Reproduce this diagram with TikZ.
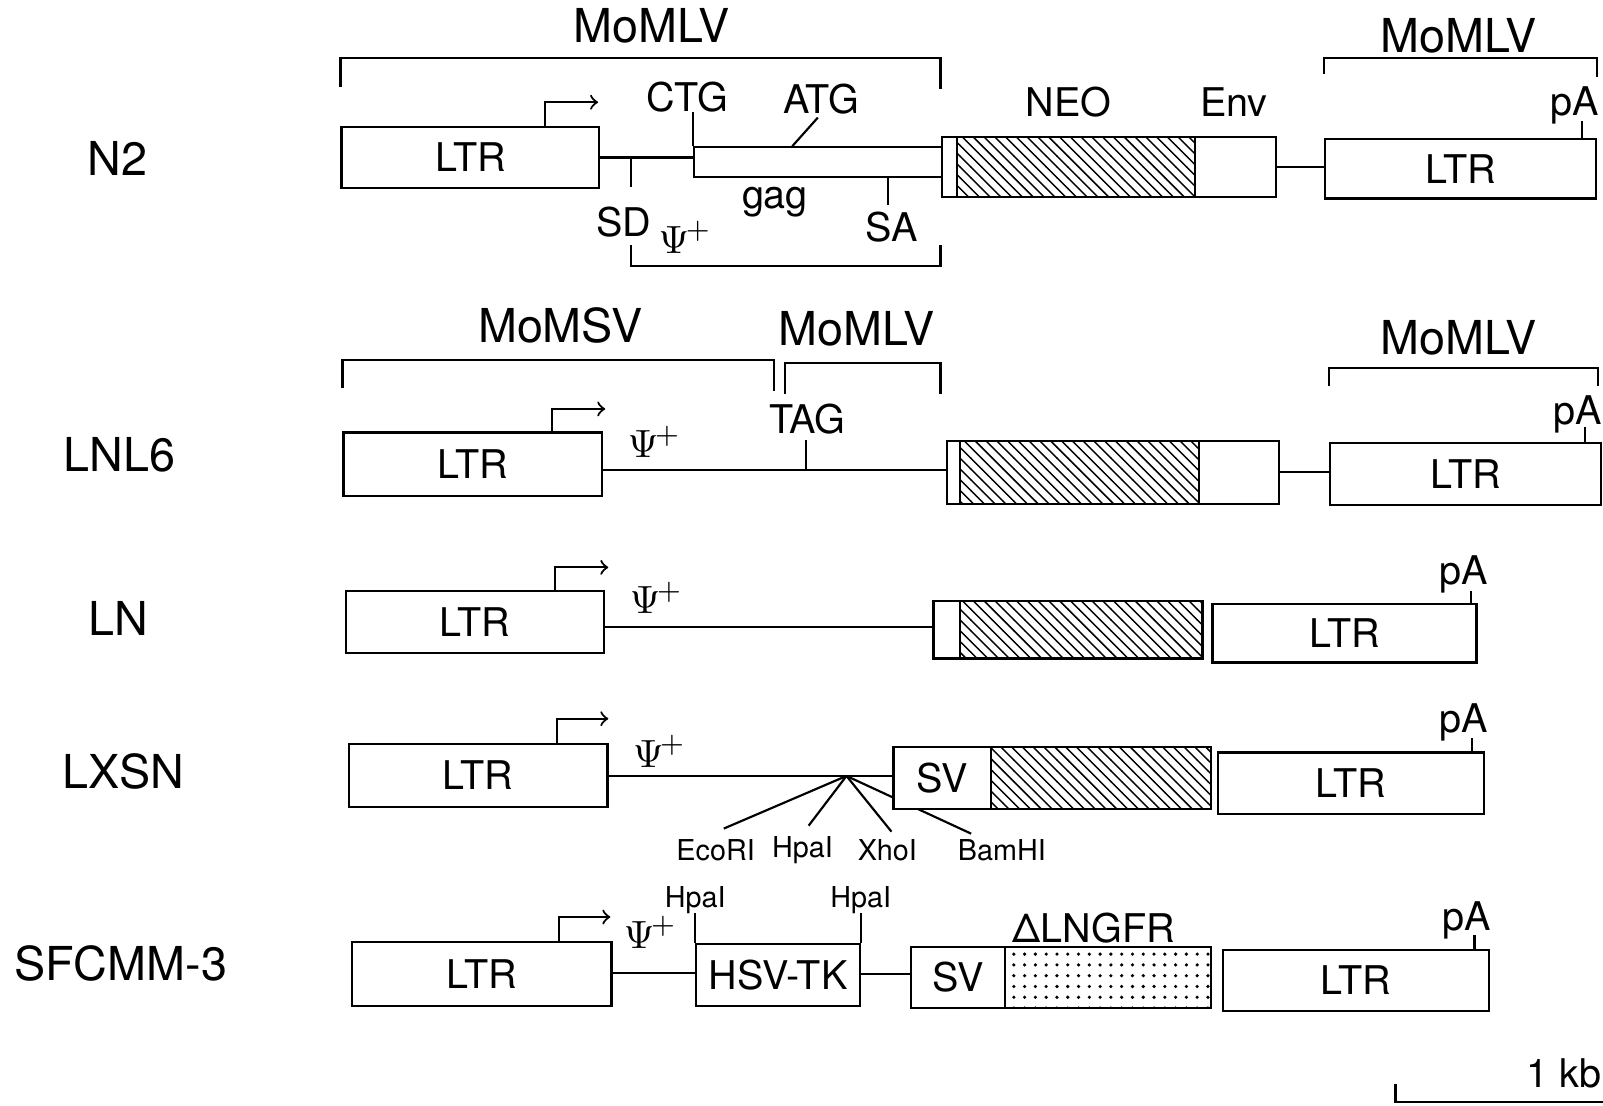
\documentclass[tikz,border=0pt]{standalone}
\usepackage{fontspec}
\setmainfont{TeX Gyre Heros}
\usetikzlibrary{positioning,calc,patterns,arrows}

\begin{document}
\begin{tikzpicture}[
    x=0.01cm, y=-0.01cm,
    line width=0.6pt,
    sz/.style 2 args={minimum width=#1cm, minimum height=#2cm},
    box/.style={rectangle, draw, fill=white, anchor=north west, inner sep=0pt, font=\fontsize{11}{13}\selectfont},
    neo/.style={rectangle, draw, pattern=north west lines, anchor=north west, inner sep=0pt},
    ngfr/.style={rectangle, draw, pattern=dots, anchor=north west, inner sep=0pt},
    lbl/.style={inner sep=0pt, font=\fontsize{11}{13}\selectfont},
    big/.style={inner sep=0pt, font=\fontsize{13}{15}\selectfont},
    site/.style={inner sep=0pt, font=\fontsize{8}{10}\selectfont},
    prom/.style={->}
]
    \useasboundingbox (0,0) rectangle (1568,1081);

    % Row labels
    \node[big] (rN2) at (115,155) {N2};
    \node[big] (rLNL6) at (117,445) {LNL6};
    \node[big] (rLN) at (116,605) {LN};
    \node[big] (rLXSN) at (121,755) {LXSN};
    \node[big] (rSFC) at (118,942) {SFCMM-3};

    % N2
    \node[box, sz={2.52}{0.60}] (ltrA) at (333,123) {LTR};
    \draw[prom] (ltrA.north west) ++(200,0) -- ++(0,-23) -- ++(52,0);
    \node[box, sz={2.42}{0.29}] (gagA) at (678,143) {};
    \node[box, sz={0.15}{0.59}] (stripA) at (920,133) {};
    \node[neo, sz={2.33}{0.59}] (neoA) at (935,133) {};
    \node[box, sz={0.79}{0.59}] (envA) at (1168,133) {};
    \node[box, sz={2.65}{0.58}] (ltrB) at (1295,135) {LTR};
    \draw (ltrA.east) -- (ltrA.east -| gagA.west);
    \draw (envA.east) -- (envA.east -| ltrB.west);
    \draw (gagA.north west) -- ++(0,-33);
    \draw ($(gagA.north west)+(97,0)$) -- ++(25,-28);
    \draw ($(gagA.south west)+(191,0)$) -- ++(0,26);
    \coordinate (sdA) at (617,153);
    \draw (sdA) -- ++(0,30);
    \draw ($(ltrB.north east)+(-15,0)$) -- ++(0,-17);
    \node[lbl] (ctgA) at (672,95) {CTG};
    \node[lbl] (atgA) at (803,97) {ATG};
    \node[lbl] (gagL) at (758,198) {gag};
    \node[lbl] (sdL) at (610,217) {SD};
    \node[lbl] (saL) at (872,222) {SA};
    \node[lbl] (psiA) at (670,232) {$\Psi^{\mkern-2mu+}$};
    \node[lbl] (neoL) at (1045,100) {NEO};
    \node[lbl] (envL) at (1207,100) {Env};
    \node[lbl] (pAA) at (1540,103) {pA};
    \draw (617,240) |- (920,260) -- (920,240);
    \draw (333,85) |- (920,57) -- (920,87);
    \node[big] (mlvA) at (637,25) {MoMLV};
    \draw (1295,72) |- (1562,57) -- (1562,75);
    \node[big] (mlvB) at (1427,35) {MoMLV};

    % LNL6
    \node[box, sz={2.53}{0.62}] (ltrC) at (335,422) {LTR};
    \draw[prom] (ltrC.north west) ++(205,0) -- ++(0,-22) -- ++(52,0);
    \node[box, sz={0.13}{0.62}] (stripC) at (925,430) {};
    \node[neo, sz={2.34}{0.62}] (neoC) at (938,430) {};
    \node[box, sz={0.78}{0.62}] (envC) at (1172,430) {};
    \node[box, sz={2.65}{0.61}] (ltrD) at (1300,432) {LTR};
    \coordinate (tagC) at (788,460);
    \draw (ltrC.east |- tagC) -- (tagC) -- (tagC -| stripC.west);
    \draw (tagC) -- ++(0,-30);
    \draw (envC.east) -- (envC.east -| ltrD.west);
    \draw ($(ltrD.north east)+(-17,0)$) -- ++(0,-14);
    \node[lbl] (tagL) at (790,410) {TAG};
    \node[lbl] (psiC) at (640,432) {$\Psi^{\mkern-2mu+}$};
    \node[lbl] (pAC) at (1543,405) {pA};
    \draw (335,380) |- (757,352) -- (757,382);
    \node[big] (msvC) at (548,318) {MoMSV};
    \draw (768,385) |- (920,355) -- (920,385);
    \node[big] (mlvC) at (838,322) {MoMLV};
    \draw (1300,378) |- (1563,360) -- (1563,378);
    \node[big] (mlvD) at (1427,330) {MoMLV};

    % LN
    \node[box, sz={2.53}{0.61}] (ltrE) at (337,577) {LTR};
    \draw[prom] (ltrE.north west) ++(206,0) -- ++(0,-22) -- ++(52,0);
    \node[box, sz={0.26}{0.56}] (stripE) at (912,587) {};
    \node[neo, sz={2.37}{0.56}] (neoE) at (938,587) {};
    \node[box, sz={2.58}{0.57}] (ltrF) at (1185,590) {LTR};
    \draw (ltrE.east |- 0,613) -- (stripE.west |- 0,613);
    \draw ($(ltrF.north east)+(-6,0)$) -- ++(0,-12);
    \node[lbl] (psiE) at (642,585) {$\Psi^{\mkern-2mu+}$};
    \node[lbl] (pAE) at (1432,562) {pA};

    % LXSN
    \node[box, sz={2.53}{0.61}] (ltrG) at (340,727) {LTR};
    \draw[prom] (ltrG.north west) ++(205,0) -- ++(0,-24) -- ++(50,0);
    \coordinate (mcsG) at (828,759);
    \node[site] (ecoG) at (700,832) {EcoRI};
    \node[site] (hpaG) at (785,832) {HpaI};
    \node[site] (xhoG) at (868,832) {XhoI};
    \node[site] (bamG) at (980,832) {BamHI};
    \draw (mcsG) -- ($(ecoG.north)+(8,-10)$);
    \draw (mcsG) -- ($(hpaG.north)+(6,-10)$);
    \draw (mcsG) -- ($(xhoG.north)+(4,-7)$);
    \draw (mcsG) -- ($(bamG.north)+(-30,-5)$);
    \node[box, sz={0.95}{0.60}] (svG) at (873,730) {SV};
    \node[neo, sz={2.15}{0.60}] (neoG) at (968,730) {};
    \node[box, sz={2.60}{0.60}] (ltrH) at (1190,735) {LTR};
    \draw (ltrG.east |- mcsG) -- (svG.west |- mcsG);
    \draw ($(ltrH.north east)+(-12,0)$) -- ++(0,-13);
    \node[lbl] (psiG) at (645,735) {$\Psi^{\mkern-2mu+}$};
    \node[lbl] (pAG) at (1432,707) {pA};

    % SFCMM-3
    \node[box, sz={2.54}{0.63}] (ltrI) at (343,920) {LTR};
    \draw[prom] (ltrI.north west) ++(204,0) -- ++(0,-23) -- ++(50,0);
    \node[box, sz={1.60}{0.61}] (tkI) at (680,922) {HSV-TK};
    \node[box, sz={0.92}{0.60}] (svI) at (890,925) {SV};
    \node[ngfr, sz={2.01}{0.60}] (ngfrI) at (982,925) {};
    \node[box, sz={2.60}{0.60}] (ltrJ) at (1195,928) {LTR};
    \draw (ltrI.east |- 0,952) -- (tkI.west |- 0,952);
    \draw (tkI.east |- 0,953) -- (svI.west |- 0,953);
    \draw (tkI.north west) -- ++(0,-29);
    \draw (tkI.north east) -- ++(0,-29);
    \draw ($(ltrJ.north east)+(-15,0)$) -- ++(0,-13);
    \node[site] (hpaI1) at (680,880) {HpaI};
    \node[site] (hpaI2) at (842,880) {HpaI};
    \node[lbl] (ngfrL) at (1070,908) {ΔLNGFR};
    \node[lbl] (psiI) at (636,912) {$\Psi^{\mkern-2mu+}$};
    \node[lbl] (pAI) at (1435,900) {pA};

    % Scale bar
    \draw (1365,1060) |- (1568,1078);
    \node[lbl] (kb) at (1530,1050) {1 kb};
\end{tikzpicture}
\end{document}
